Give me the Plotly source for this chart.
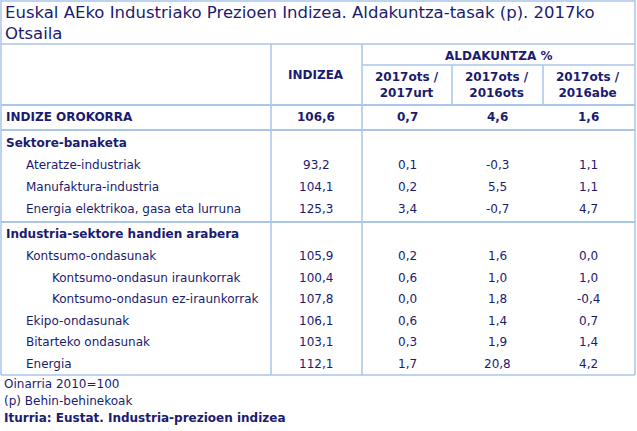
import plotly.graph_objects as go

title = "Euskal AEko Industriako Prezioen Indizea. Aldakuntza-tasak (p). 2017ko<br>Otsaila"
rows = ["INDIZE OROKORRA", "Sektore-banaketa", "Ateratze-industriak", "Manufaktura-industria",
        "Energia elektrikoa, gasa eta lurruna", "Industria-sektore handien arabera",
        "Kontsumo-ondasunak", "Kontsumo-ondasun iraunkorrak", "Kontsumo-ondasun ez-iraunkorrak",
        "Ekipo-ondasunak", "Bitarteko ondasunak", "Energia"]
levels = [0, 0, 1, 1, 1, 0, 1, 2, 2, 1, 1, 1]
indizea = [106.6, None, 93.2, 104.1, 125.3, None, 105.9, 100.4, 107.8, 106.1, 103.1, 112.1]
v_urt = [0.7, None, 0.1, 0.2, 3.4, None, 0.2, 0.6, 0.0, 0.6, 0.3, 1.7]
v_ots = [4.6, None, -0.3, 5.5, -0.7, None, 1.6, 1.0, 1.8, 1.4, 1.9, 20.8]
v_abe = [1.6, None, 1.1, 1.1, 4.7, None, 0.0, 1.0, -0.4, 0.7, 1.4, 4.2]
col_heads = ["2017ots /<br>2017urt", "2017ots /<br>2016ots", "2017ots /<br>2016abe"]
footer = ["Oinarria 2010=100", "(p) Behin-behinekoak", "<b>Iturria: Eustat. Industria-prezioen indizea</b>"]

row_y = [117, 143, 165, 187, 209, 234, 256, 278, 299, 321, 342, 364]
C = "#1b1b70"
L = "#a9c6e8"
F = "Verdana, DejaVu Sans"

def fmt(v):
    return "" if v is None else f"{v:.1f}".replace(".", ",")

fig = go.Figure()
fig.add_trace(go.Scatter(x=[0, 637], y=[0, 431], mode="markers", marker=dict(opacity=0), hoverinfo="skip"))
ann = []
def txt(x, y, t, anchor="left", size=12, bold=False):
    ann.append(dict(x=x, y=y, text=(f"<b>{t}</b>" if bold else t), showarrow=False, xanchor=anchor,
                    yanchor="middle", font=dict(family=F, size=size, color=C), align="center"))

ann.append(dict(x=3, y=1, text=title, showarrow=False, xanchor="left", yanchor="top", align="left",
                font=dict(family=F, size=16.5, color=C)))
txt(316, 75, "INDIZEA", "center", bold=True)
txt(498, 56, "ALDAKUNTZA %", "center", bold=True)
for cx, h in zip([407, 497, 588], col_heads):
    txt(cx, 85, h, "center", bold=True)

cols = [(316, indizea), (407, v_urt), (497, v_ots), (588, v_abe)]
for i, (name, lv, y) in enumerate(zip(rows, levels, row_y)):
    bold = (lv == 0)
    txt([4, 24, 50][lv], y, name, "left", bold=bold)
    for cx, arr in cols:
        if arr[i] is not None:
            txt(cx, y, fmt(arr[i]), "center", bold=(i == 0))
for y, t in zip([384, 401, 418], footer):
    txt(2, y, t, "left")

shapes = []
def line(x0, y0, x1, y1, w=1.5):
    shapes.append(dict(type="line", x0=x0, y0=y0, x1=x1, y1=y1, line=dict(color=L, width=w)))
line(1, 0, 1, 375); line(635, 0, 635, 375); line(1, 1, 635, 1)
line(1, 44, 635, 44); line(362, 65, 635, 65)
line(1, 105, 635, 105, 2); line(1, 130, 635, 130, 2); line(1, 222, 635, 222, 2); line(1, 375, 635, 375)
line(271, 44, 271, 375); line(362, 44, 362, 375); line(452, 65, 452, 105); line(543, 65, 543, 105)

fig.update_layout(width=637, height=431, margin=dict(l=0, r=0, t=0, b=0), plot_bgcolor="white",
                  paper_bgcolor="white", showlegend=False, annotations=ann, shapes=shapes,
                  xaxis=dict(range=[0, 637], visible=False, fixedrange=True),
                  yaxis=dict(range=[431, 0], visible=False, fixedrange=True))
fig.write_html("out.html", config={"displayModeBar": False},
               post_script="document.body.style.margin='0';document.body.style.overflow='hidden';")
